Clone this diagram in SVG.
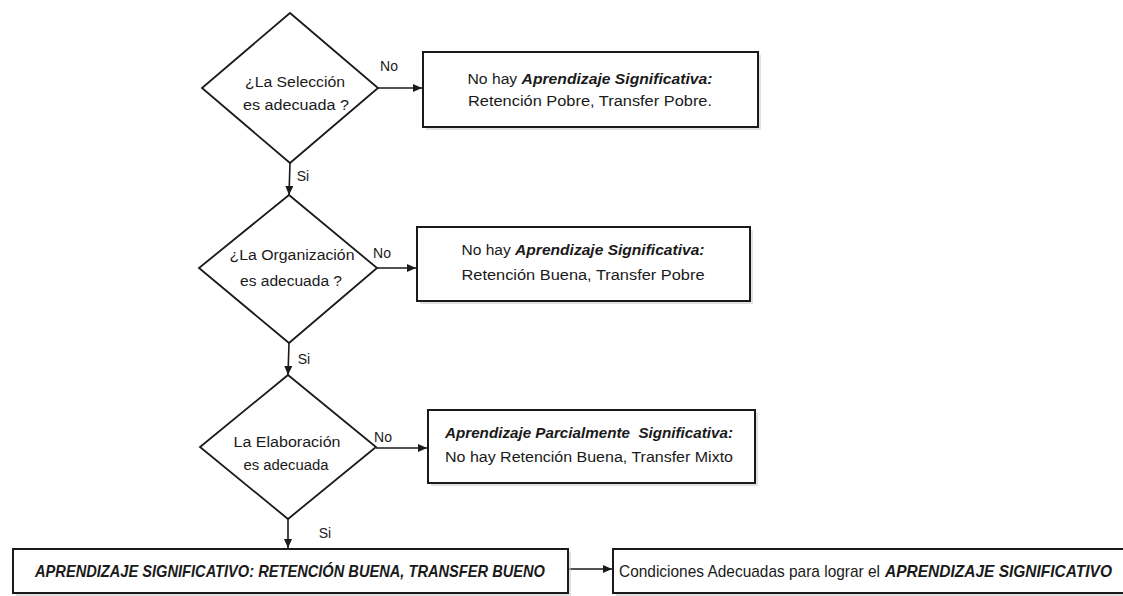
<svg xmlns="http://www.w3.org/2000/svg" width="1123" height="596" viewBox="0 0 1123 596">
<style>
  .box { fill: #ffffff; stroke: #1a1a1a; stroke-width: 2; }
  .shadow { fill: #c8c8c8; opacity: 0.55; }
  .dia { fill: #ffffff; stroke: #1a1a1a; stroke-width: 1.8; }
  .t { font-family: "Liberation Sans Narrow", "Liberation Sans", Arial, sans-serif; font-size: 14px; fill: #1a1a1a; }
  .big { font-size: 17px; }
  .bi { font-weight: bold; font-style: italic; }
  .conn { stroke: #1a1a1a; stroke-width: 1.6; fill: none; marker-end: url(#arr); }
  .lbl { font-family: "Liberation Sans Narrow", "Liberation Sans", Arial, sans-serif; font-size: 14px; fill: #1a1a1a; }
</style>
<defs>
  <marker id="arr" markerUnits="userSpaceOnUse" markerWidth="9" markerHeight="8" refX="9" refY="4" orient="auto">
    <path d="M0,0 L9,4 L0,8 z" fill="#1a1a1a"/>
  </marker>
</defs>
<rect width="1123" height="596" fill="#ffffff"/>

<g id="connectors">
  <line class="conn" x1="378" y1="88" x2="422" y2="88"/>
  <line class="conn" x1="290" y1="163" x2="289" y2="195"/>
  <line class="conn" x1="377" y1="268" x2="416" y2="268"/>
  <line class="conn" x1="289" y1="343" x2="288" y2="375"/>
  <line class="conn" x1="376" y1="448" x2="427" y2="448"/>
  <line class="conn" x1="288" y1="519" x2="288" y2="548"/>
  <line class="conn" x1="568" y1="569" x2="612" y2="569"/>
  <text class="lbl" x="389" y="71" text-anchor="middle">No</text>
  <text class="lbl" x="303" y="181" text-anchor="middle">Si</text>
  <text class="lbl" x="382" y="258" text-anchor="middle">No</text>
  <text class="lbl" x="304" y="364" text-anchor="middle">Si</text>
  <text class="lbl" x="383" y="442" text-anchor="middle">No</text>
  <text class="lbl" x="325" y="538" text-anchor="middle">Si</text>
</g>

<g id="d1">
  <polygon class="dia" points="290,13 378,88 290,163 202,88"/>
  <text class="t" x="295" y="87" text-anchor="middle" textLength="100" lengthAdjust="spacingAndGlyphs">¿La Selección</text>
  <text class="t" x="296" y="110" text-anchor="middle" textLength="106" lengthAdjust="spacingAndGlyphs">es adecuada ?</text>
</g>

<g id="b1">
  <rect class="shadow" x="426" y="55" width="335" height="75"/>
  <rect class="box" x="423" y="52" width="335" height="75"/>
  <text class="t" x="590" y="84" text-anchor="middle" textLength="245" lengthAdjust="spacingAndGlyphs">No hay <tspan class="bi">Aprendizaje Significativa:</tspan></text>
  <text class="t" x="590" y="106" text-anchor="middle" textLength="244" lengthAdjust="spacingAndGlyphs">Retención Pobre, Transfer Pobre.</text>
</g>

<g id="d2">
  <polygon class="dia" points="289,195 377,268 289,343 199,268"/>
  <text class="t" x="292" y="260" text-anchor="middle" textLength="125" lengthAdjust="spacingAndGlyphs">¿La Organización</text>
  <text class="t" x="291" y="286" text-anchor="middle" textLength="102" lengthAdjust="spacingAndGlyphs">es adecuada ?</text>
</g>

<g id="b2">
  <rect class="shadow" x="420" y="230" width="333" height="74"/>
  <rect class="box" x="417" y="227" width="333" height="74"/>
  <text class="t" x="583" y="255" text-anchor="middle" textLength="243" lengthAdjust="spacingAndGlyphs">No hay <tspan class="bi">Aprendizaje Significativa:</tspan></text>
  <text class="t" x="583" y="280" text-anchor="middle" textLength="243" lengthAdjust="spacingAndGlyphs">Retención Buena, Transfer Pobre</text>
</g>

<g id="d3">
  <polygon class="dia" points="288,375 376,447 288,519 200,447"/>
  <text class="t" x="287" y="447" text-anchor="middle" textLength="107" lengthAdjust="spacingAndGlyphs">La Elaboración</text>
  <text class="t" x="286" y="470" text-anchor="middle" textLength="85" lengthAdjust="spacingAndGlyphs">es adecuada</text>
</g>

<g id="b3">
  <rect class="shadow" x="431" y="413" width="327" height="73"/>
  <rect class="box" x="428" y="410" width="327" height="73"/>
  <text class="t bi" x="589" y="438" text-anchor="middle" textLength="288" lengthAdjust="spacingAndGlyphs">Aprendizaje Parcialmente&#160; Significativa:</text>
  <text class="t" x="589" y="462" text-anchor="middle" textLength="288" lengthAdjust="spacingAndGlyphs">No hay Retención Buena, Transfer Mixto</text>
</g>

<g id="b4">
  <rect class="shadow" x="16" y="552" width="555" height="44"/>
  <rect class="box" x="13" y="549" width="555" height="44"/>
  <text class="t big bi" x="290" y="577" text-anchor="middle" textLength="510" lengthAdjust="spacingAndGlyphs">APRENDIZAJE SIGNIFICATIVO: RETENCIÓN BUENA, TRANSFER BUENO</text>
</g>

<g id="b5">
  <rect class="shadow" x="616" y="552" width="520" height="44"/>
  <rect class="box" x="613" y="549" width="520" height="44"/>
  <text class="t big" x="619" y="577" textLength="261" lengthAdjust="spacingAndGlyphs">Condiciones Adecuadas para lograr el</text>
  <text class="t big bi" x="885" y="577" textLength="227" lengthAdjust="spacingAndGlyphs">APRENDIZAJE SIGNIFICATIVO</text>
</g>
</svg>
